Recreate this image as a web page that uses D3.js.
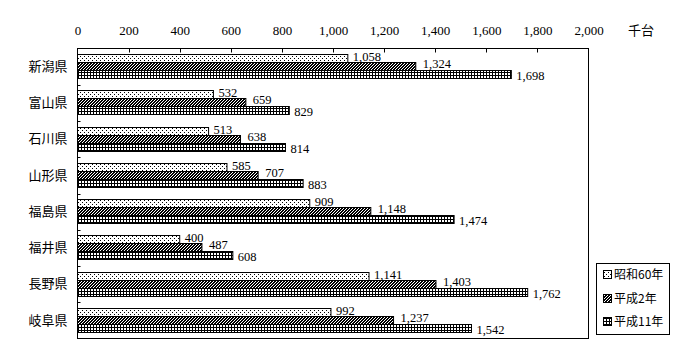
<!DOCTYPE html>
<html><head><meta charset="utf-8">
<script src="https://cdn.jsdelivr.net/npm/d3@7"></script>
<style>body{margin:0;background:#fff}svg{display:block}</style>
</head><body><svg id="c" width="700" height="360"></svg>
<script>
const categories = ["新潟県","富山県","石川県","山形県","福島県","福井県","長野県","岐阜県"];
const seriesNames = ["昭和60年","平成2年","平成11年"];
const s60 = [1058,532,513,585,909,400,1141,992];
const h2  = [1324,659,638,707,1148,487,1403,1237];
const h11 = [1698,829,814,883,1474,608,1762,1542];
const xTicks = [0,200,400,600,800,1000,1200,1400,1600,1800,2000];
const unitLabel = "千台";

const series = [s60,h2,h11];
const svg = d3.select("#c");
const L=77.5, R=588.5, T=48.5, B=338.5;
const x = d3.scaleLinear().domain([0,2000]).range([L,R]);
const y = d3.scaleBand().domain(categories).range([T,B]);
const barH = 8, barOff = 5.5;
const jp = "'Noto Sans CJK JP', sans-serif";
const num = "'Liberation Serif', serif";

const defs = svg.append("defs");
// dotted
const p0 = defs.append("pattern").attr("id","pDot").attr("patternUnits","userSpaceOnUse").attr("width",4).attr("height",4);
p0.append("rect").attr("width",4).attr("height",4).attr("fill","#fff");
p0.append("rect").attr("x",0).attr("y",0).attr("width",1).attr("height",1).attr("fill","#000");
p0.append("rect").attr("x",2).attr("y",2).attr("width",1).attr("height",1).attr("fill","#000");
// hatched (pixel diagonal stair, period 3, 2 black 1 white)
const p1 = defs.append("pattern").attr("id","pHatch").attr("patternUnits","userSpaceOnUse").attr("width",3).attr("height",3);
p1.append("rect").attr("width",3).attr("height",3).attr("fill","#000");
[[2,0],[1,1],[0,2]].forEach(([a,b])=>p1.append("rect").attr("x",a).attr("y",b).attr("width",1).attr("height",1).attr("fill","#fff"));
// grid
const p2 = defs.append("pattern").attr("id","pGrid").attr("patternUnits","userSpaceOnUse").attr("width",3).attr("height",3);
p2.append("rect").attr("width",3).attr("height",3).attr("fill","#fff");
p2.append("rect").attr("x",0).attr("y",0).attr("width",3).attr("height",1).attr("fill","#000");
p2.append("rect").attr("x",0).attr("y",0).attr("width",1).attr("height",3).attr("fill","#000");
const fills = ["url(#pDot)","url(#pHatch)","url(#pGrid)"];

// top axis
const xAxis = d3.axisTop(x).tickValues(xTicks).tickSize(0).tickPadding(14).tickFormat(d3.format(","));
const gx = svg.append("g").attr("transform",`translate(0,${T})`).call(xAxis);
gx.select(".domain").remove();
gx.selectAll("text").attr("font-family",num).attr("font-size",13).attr("fill","#000");
// inner ticks
svg.append("g").selectAll("line").data(xTicks.slice(1,-1)).join("line")
  .attr("x1",d=>Math.round(x(d))+0.5).attr("x2",d=>Math.round(x(d))+0.5)
  .attr("y1",T).attr("y2",T+4).attr("stroke","#000");
svg.append("text").attr("x",628).attr("y",35).attr("font-family",jp).attr("font-size",13).text(unitLabel);

// left axis
const yAxis = d3.axisLeft(y).tickSize(0).tickPadding(10);
const gy = svg.append("g").attr("transform",`translate(${L},0)`).call(yAxis);
gy.select(".domain").remove();
gy.selectAll("text").attr("font-family",jp).attr("font-size",13).attr("fill","#000");
svg.append("g").selectAll("line").data(categories.slice(1)).join("line")
  .attr("x1",L).attr("x2",L+3).attr("y1",d=>Math.round(y(d))+0.5).attr("y2",d=>Math.round(y(d))+0.5).attr("stroke","#000");

// bars
const labOffX=[5,7,5], labOffY=[-2,-3,1];
series.forEach((vals,si)=>{
  const g = svg.append("g");
  g.selectAll("rect").data(vals).join("rect")
    .attr("x",L).attr("y",(d,i)=>Math.round(y(categories[i])+barOff)+si*barH+0.5)
    .attr("width",d=>x(d)-L).attr("height",barH)
    .attr("fill",fills[si]).attr("stroke","#000").attr("stroke-width",1);
  g.selectAll("text").data(vals).join("text")
    .attr("x",d=>x(d)+labOffX[si])
    .attr("y",(d,i)=>Math.round(y(categories[i])+barOff)+si*barH+barH/2+labOffY[si]+0.5)
    .attr("dy","0.35em").attr("font-family",num).attr("font-size",12.5).text(d=>d3.format(",")(d));
});

// frame
svg.append("rect").attr("x",L).attr("y",T).attr("width",R-L).attr("height",B-T).attr("fill","none").attr("stroke","#000");

// legend
svg.append("rect").attr("x",596.5).attr("y",263.5).attr("width",73).attr("height",71).attr("fill","#fff").attr("stroke","#000");
const ly=[275,299,322];
seriesNames.forEach((n,i)=>{
  svg.append("rect").attr("x",603.5).attr("y",ly[i]-4.5).attr("width",8).attr("height",8).attr("fill",fills[i]).attr("stroke","#000");
  svg.append("text").attr("x",614).attr("y",ly[i]).attr("dy","0.35em").attr("font-family",jp).attr("font-size",12).text(n);
});
</script></body></html>
